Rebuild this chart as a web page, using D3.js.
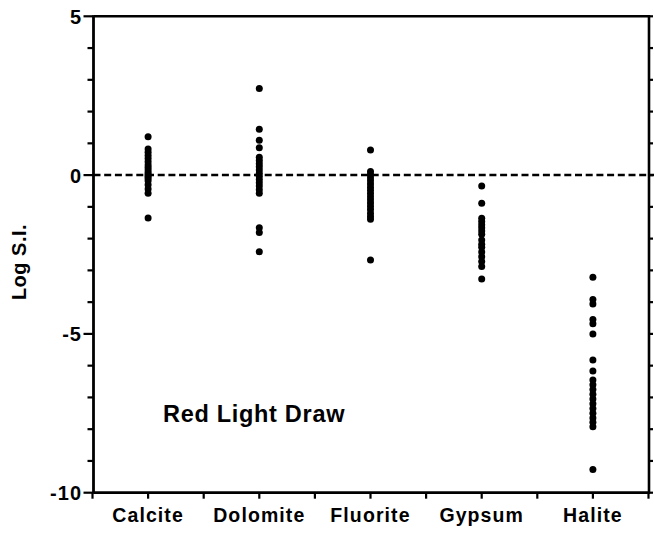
<!DOCTYPE html>
<html><head><meta charset="utf-8">
<script src="https://cdn.jsdelivr.net/npm/d3@7"></script>
<style>body{margin:0;background:#fff}svg{display:block}text{font-family:"Liberation Sans",Arial,Helvetica,sans-serif;font-weight:bold;fill:#000}</style>
</head><body>
<svg id="c" width="654" height="540"></svg>
<script>
const categories = ["Calcite","Dolomite","Fluorite","Gypsum","Halite"];
const calcite  = [1.21,0.82,0.72,0.62,0.52,0.42,0.32,0.24,0.16,0.08,0.02,-0.04,-0.1,-0.18,-0.3,-0.44,-0.57,-1.35];
const dolomite = [2.73,1.44,1.1,0.86,0.56,0.46,0.36,0.26,0.16,0.06,-0.04,-0.14,-0.24,-0.34,-0.46,-0.57,-1.66,-1.81,-2.41];
const fluorite = [0.79,0.11,0.02,-0.08,-0.18,-0.28,-0.38,-0.48,-0.58,-0.68,-0.78,-0.88,-0.98,-1.08,-1.2,-1.3,-1.39,-2.67];
const gypsum   = [-0.34,-0.89,-1.36,-1.46,-1.56,-1.66,-1.76,-1.86,-2.04,-2.18,-2.27,-2.42,-2.57,-2.72,-2.88,-3.27];
const halite   = [-3.22,-3.92,-4.06,-4.55,-4.68,-5.0,-5.82,-6.17,-6.45,-6.6,-6.75,-6.9,-7.05,-7.2,-7.35,-7.5,-7.65,-7.78,-7.92,-9.27];
const seriesValues = [calcite, dolomite, fluorite, gypsum, halite];
const yTickLabels = [5, 0, -5, -10];
const yTitle = "Log S.I.";
const note = "Red Light Draw";

const svg = d3.select("#c");
const L = 93.5, R = 649, T = 16.3, B = 492.7;
const x = d3.scalePoint().domain(categories).range([92.5, 648.5]).padding(0.5);
const xMinor = d3.scaleLinear().domain([0, 10]).range([92.5, 648.5]);
const y = d3.scaleLinear().domain([-10, 5]).range([B, T]);

// frame
const g = svg.append("g").attr("stroke", "#000").attr("fill", "none");
g.append("line").attr("x1", L).attr("x2", L).attr("y1", T - 1).attr("y2", B + 1).attr("stroke-width", 2.8);
g.append("line").attr("x1", R).attr("x2", R).attr("y1", T - 1).attr("y2", B + 1).attr("stroke-width", 2.6);
g.append("line").attr("x1", L).attr("x2", R + 1).attr("y1", T).attr("y2", T).attr("stroke-width", 2.4);
g.append("line").attr("x1", L).attr("x2", R + 1).attr("y1", B).attr("y2", B).attr("stroke-width", 2.8);

// left axis ticks
const yTicks = d3.range(-10, 6, 1);
g.selectAll(".lt").data(yTicks).enter().append("line")
  .attr("x1", d => yTickLabels.includes(d) ? L - 10 : L - 6).attr("x2", L)
  .attr("y1", d => y(d)).attr("y2", d => y(d)).attr("stroke-width", 2.2);
// right axis ticks
g.selectAll(".rt").data(yTicks).enter().append("line")
  .attr("x1", R).attr("x2", R + 4)
  .attr("y1", d => y(d)).attr("y2", d => y(d)).attr("stroke-width", 2.2);
// bottom ticks
g.selectAll(".bt").data(d3.range(0, 11)).enter().append("line")
  .attr("x1", d => xMinor(d)).attr("x2", d => xMinor(d))
  .attr("y1", B).attr("y2", B + 6).attr("stroke-width", 2.2);

// zero dashed line
svg.append("line").attr("x1", L).attr("x2", 654).attr("y1", y(0)).attr("y2", y(0))
  .attr("stroke", "#000").attr("stroke-width", 2.5).attr("stroke-dasharray", "7,3.7");

// y tick labels
svg.selectAll(".yl").data(yTickLabels).enter().append("text")
  .attr("x", 82).attr("y", d => y(d) + 7.5).attr("text-anchor", "end")
  .style("font-size", "20px").style("letter-spacing", "1px").text(d => d);

// y title
svg.append("text").attr("transform", "translate(26,262) rotate(-90)")
  .attr("text-anchor", "middle").style("font-size", "20px").style("letter-spacing", "0.5px").text(yTitle);

// x labels
svg.selectAll(".xl").data(categories).enter().append("text")
  .attr("x", d => x(d)).attr("y", 522).attr("text-anchor", "middle")
  .style("font-size", "19.5px").style("letter-spacing", "1.1px").text(d => d);

// note
svg.append("text").attr("x", 163).attr("y", 422).style("font-size", "23.5px").style("letter-spacing", "0.7px").text(note);

// points
categories.forEach((c, i) => {
  svg.selectAll(".p" + i).data(seriesValues[i]).enter().append("circle")
    .attr("cx", x(c)).attr("cy", d => y(d)).attr("r", 3.5).attr("fill", "#000");
});
</script>
</body></html>
